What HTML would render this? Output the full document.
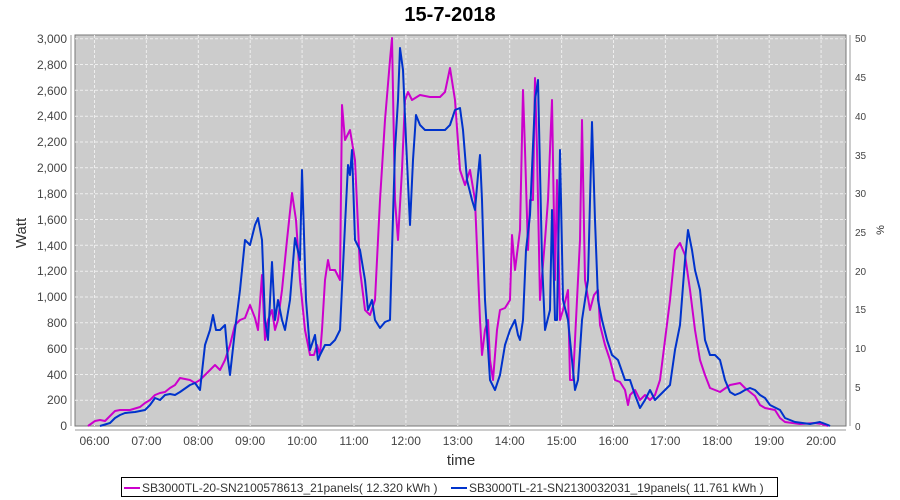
<!DOCTYPE html>
<html><head><style>body{margin:0;background:#fff}svg{display:block;font-family:"Liberation Sans",sans-serif}</style></head><body>
<svg width="900" height="500" xmlns="http://www.w3.org/2000/svg">
<text x="450" y="21" text-anchor="middle" font-size="20" font-weight="bold">15-7-2018</text>
<rect x="75" y="35" width="771" height="391" fill="#cccccc" stroke="#777"/>
<g stroke="#eee" stroke-dasharray="3,2" stroke-width="1">
<line x1="75" x2="846" y1="38.7" y2="38.7"/><line x1="75" x2="846" y1="64.5" y2="64.5"/><line x1="75" x2="846" y1="90.3" y2="90.3"/><line x1="75" x2="846" y1="116.2" y2="116.2"/><line x1="75" x2="846" y1="142" y2="142"/><line x1="75" x2="846" y1="167.8" y2="167.8"/><line x1="75" x2="846" y1="193.7" y2="193.7"/><line x1="75" x2="846" y1="219.5" y2="219.5"/><line x1="75" x2="846" y1="245.3" y2="245.3"/><line x1="75" x2="846" y1="271.2" y2="271.2"/><line x1="75" x2="846" y1="297" y2="297"/><line x1="75" x2="846" y1="322.8" y2="322.8"/><line x1="75" x2="846" y1="348.7" y2="348.7"/><line x1="75" x2="846" y1="374.5" y2="374.5"/><line x1="75" x2="846" y1="400.3" y2="400.3"/>
<line y1="35" y2="426" x1="94.5" x2="94.5"/><line y1="35" y2="426" x1="146.4" x2="146.4"/><line y1="35" y2="426" x1="198.3" x2="198.3"/><line y1="35" y2="426" x1="250.2" x2="250.2"/><line y1="35" y2="426" x1="302.1" x2="302.1"/><line y1="35" y2="426" x1="354" x2="354"/><line y1="35" y2="426" x1="405.9" x2="405.9"/><line y1="35" y2="426" x1="457.8" x2="457.8"/><line y1="35" y2="426" x1="509.7" x2="509.7"/><line y1="35" y2="426" x1="561.6" x2="561.6"/><line y1="35" y2="426" x1="613.5" x2="613.5"/><line y1="35" y2="426" x1="665.4" x2="665.4"/><line y1="35" y2="426" x1="717.3" x2="717.3"/><line y1="35" y2="426" x1="769.2" x2="769.2"/><line y1="35" y2="426" x1="821.1" x2="821.1"/>
</g>
<g stroke="#999"><line x1="71" x2="71" y1="35" y2="426"/><line x1="75" x2="846" y1="430" y2="430"/><line x1="850" x2="850" y1="35" y2="426"/></g>
<g font-size="12" fill="#444" text-anchor="end">
<text x="67" y="43">3,000</text><text x="67" y="69">2,800</text><text x="67" y="95">2,600</text><text x="67" y="120">2,400</text><text x="67" y="146">2,200</text><text x="67" y="172">2,000</text><text x="67" y="198">1,800</text><text x="67" y="224">1,600</text><text x="67" y="250">1,400</text><text x="67" y="275">1,200</text><text x="67" y="301">1,000</text><text x="67" y="327">800</text><text x="67" y="353">600</text><text x="67" y="379">400</text><text x="67" y="404">200</text><text x="67" y="430">0</text>
</g>
<g font-size="10" fill="#444">
<text x="855" y="42">50</text><text x="855" y="81">45</text><text x="855" y="120">40</text><text x="855" y="159">35</text><text x="855" y="197">30</text><text x="855" y="236">25</text><text x="855" y="275">20</text><text x="855" y="313">15</text><text x="855" y="352">10</text><text x="855" y="391">5</text><text x="855" y="430">0</text>
</g>
<g font-size="12" fill="#444" text-anchor="middle">
<text x="94.5" y="445">06:00</text><text x="146.4" y="445">07:00</text><text x="198.3" y="445">08:00</text><text x="250.2" y="445">09:00</text><text x="302.1" y="445">10:00</text><text x="354" y="445">11:00</text><text x="405.9" y="445">12:00</text><text x="457.8" y="445">13:00</text><text x="509.7" y="445">14:00</text><text x="561.6" y="445">15:00</text><text x="613.5" y="445">16:00</text><text x="665.4" y="445">17:00</text><text x="717.3" y="445">18:00</text><text x="769.2" y="445">19:00</text><text x="821.1" y="445">20:00</text>
</g>
<text x="461" y="465" text-anchor="middle" font-size="15" fill="#333">time</text>
<text transform="translate(26,233) rotate(-90)" text-anchor="middle" font-size="15" fill="#333">Watt</text>
<text transform="translate(884,230) rotate(-90)" text-anchor="middle" font-size="11" fill="#333">%</text>
<polyline fill="none" stroke="#cc00cc" stroke-width="2" stroke-linejoin="round" points="88,426 95,421 100,420 105,421 110,416 115,411 120,410 130,410 140,407 145,403 150,400 155,395 160,393 165,392 170,388 175,385 180,378 190,380 195,383 200,380 205,375 210,370 215,365 220,370 225,360 230,345 235,325 240,320 245,318 250,305 255,318 258,330 262,275 265,340 268,320 272,310 275,330 278,320 282,290 287,240 292,193 296,220 300,280 305,330 310,355 314,355 317,345 320,355 322,330 325,280 328,260 330,270 335,270 340,280 342,105 345,140 350,130 355,160 360,270 365,310 370,315 375,300 380,200 385,120 390,60 392,38 395,200 398,240 402,170 405,100 408,92 412,100 420,95 430,97 440,97 445,92 450,68 455,100 460,170 465,185 470,170 475,200 480,320 482,355 485,330 488,320 490,360 493,380 497,330 500,310 505,308 510,300 512,235 515,270 520,230 523,90 525,150 528,250 530,200 533,200 535,78 537,150 540,300 545,240 548,200 552,100 555,280 557,180 560,320 563,310 568,290 570,380 573,380 577,300 580,240 582,120 585,280 590,310 594,295 598,290 600,325 605,345 610,360 615,380 620,382 625,390 628,405 630,395 635,390 640,400 645,395 650,400 655,395 660,380 665,340 670,300 675,250 680,243 685,255 690,290 695,330 700,360 705,375 710,388 715,390 720,392 730,385 740,383 745,388 755,396 760,405 765,408 775,410 780,418 785,422 800,424 815,423 822,424 828,426"/>
<polyline fill="none" stroke="#0033cc" stroke-width="2" stroke-linejoin="round" points="100,426 110,423 115,418 120,415 125,413 135,412 145,410 150,405 155,398 160,400 165,395 170,394 175,395 180,392 190,385 195,383 200,390 205,345 210,330 213,315 216,330 220,330 225,325 228,360 230,375 235,330 240,290 245,240 250,245 255,225 258,218 262,240 265,320 268,340 272,262 275,320 278,300 282,320 285,330 290,300 295,238 300,260 302,170 306,300 310,350 315,335 318,360 320,355 325,345 330,345 335,340 340,330 345,225 348,165 350,175 352,150 355,240 360,250 365,280 368,310 372,300 375,320 380,328 385,322 390,320 392,250 395,150 398,100 400,48 403,70 406,140 410,225 413,160 416,115 420,125 425,130 430,130 445,130 450,125 455,110 460,108 463,130 467,180 472,200 475,210 478,175 480,155 482,200 485,300 490,380 495,390 500,375 505,345 510,330 515,320 518,335 520,340 523,320 526,250 530,215 535,100 538,80 542,260 545,330 550,310 552,210 555,320 557,320 560,150 563,300 568,320 572,360 575,390 578,380 582,320 588,280 592,122 595,220 598,300 602,320 607,340 612,355 618,360 625,380 630,380 635,395 640,408 645,400 650,390 655,400 660,395 665,390 670,385 675,350 680,325 685,260 688,230 692,250 695,270 700,290 705,340 710,355 715,355 720,360 725,380 730,392 735,395 740,393 745,390 750,388 755,390 760,395 765,398 770,405 780,410 785,418 795,422 810,424 820,422 828,425 830,426"/>
<rect x="121.5" y="477.5" width="656" height="19" fill="#fff" stroke="#000"/>
<line x1="124" x2="140" y1="488" y2="488" stroke="#cc00cc" stroke-width="2"/>
<text x="142" y="492" font-size="12" fill="#333">SB3000TL-20-SN2100578613_21panels( 12.320 kWh )</text>
<line x1="451" x2="467" y1="488" y2="488" stroke="#0033cc" stroke-width="2"/>
<text x="469" y="492" font-size="12" fill="#333">SB3000TL-21-SN2130032031_19panels( 11.761 kWh )</text>
</svg>
</body></html>
